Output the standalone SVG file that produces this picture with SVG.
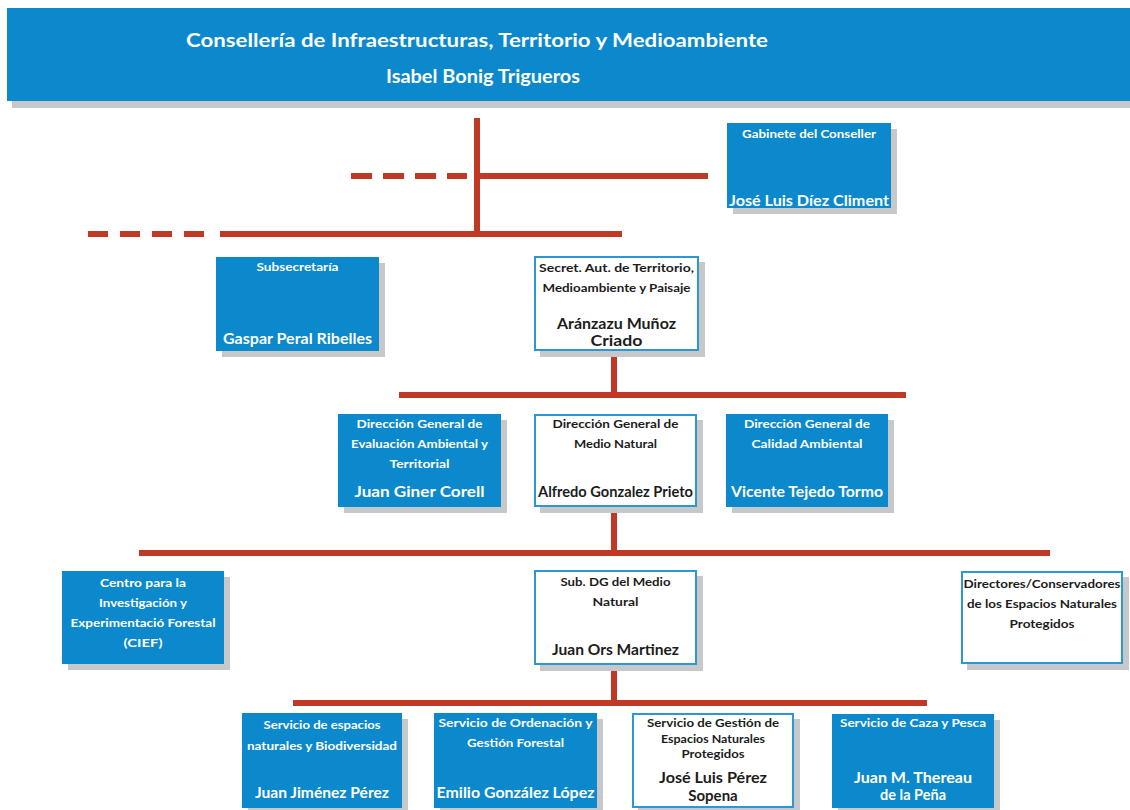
<svg xmlns="http://www.w3.org/2000/svg" width="1130" height="810" viewBox="0 0 1130 810">
<style>
  text { font-family: "Lato", "Open Sans", "Liberation Sans", sans-serif; font-weight: bold; text-anchor: middle; }
  .sh { fill: #c6c8ca; }
  .bb { fill: #0b89cc; }
  .wb { fill: #ffffff; stroke: #2b98d5; stroke-width: 2; }
  .wt { fill: #ffffff; }
  .dt { fill: #1c1c1c; }
  .lab { font-size: 11.5px; }
  .nm { font-size: 15px; }
  .hd { font-size: 19px; fill: #ffffff; }
  .ln { stroke: #c03925; stroke-width: 6; fill: none; }
</style>
<rect width="1130" height="810" fill="#ffffff"/>

<g id="header">
  <rect class="sh" x="12" y="15" width="1118" height="93"/>
  <rect class="bb" x="7" y="8" width="1123" height="93"/>
  <text class="hd" x="477" y="47" textLength="582" lengthAdjust="spacingAndGlyphs">Consellería de Infraestructuras, Territorio y Medioambiente</text>
  <text class="hd" x="483" y="83" textLength="194" lengthAdjust="spacingAndGlyphs">Isabel Bonig Trigueros</text>
</g>

<g id="connectors">
  <line class="ln" x1="477" y1="118" x2="477" y2="237"/>
  <line class="ln" x1="477" y1="176" x2="708" y2="176"/>
  <line class="ln" x1="351" y1="176" x2="467" y2="176" stroke-dasharray="21 11"/>
  <line class="ln" x1="220" y1="234" x2="622" y2="234"/>
  <line class="ln" x1="88" y1="234" x2="204" y2="234" stroke-dasharray="20 12"/>
  <line class="ln" x1="614" y1="357" x2="614" y2="396"/>
  <line class="ln" x1="399" y1="395" x2="906" y2="395"/>
  <line class="ln" x1="614" y1="513" x2="614" y2="553"/>
  <line class="ln" x1="139" y1="553" x2="1050" y2="553"/>
  <line class="ln" x1="614" y1="671" x2="614" y2="703"/>
  <line class="ln" x1="293" y1="703" x2="927" y2="703"/>
</g>

<g id="gabinete">
  <rect class="sh" x="733" y="129" width="164" height="85"/>
  <rect class="bb" x="727" y="123" width="164" height="85"/>
  <text class="wt lab" x="809" y="138" textLength="134" lengthAdjust="spacingAndGlyphs">Gabinete del Conseller</text>
  <text class="wt nm" x="809" y="206" textLength="160" lengthAdjust="spacingAndGlyphs">José Luis Díez Climent</text>
</g>

<g id="subsecretaria">
  <rect class="sh" x="222" y="263" width="163" height="94"/>
  <rect class="bb" x="216" y="257" width="163" height="94"/>
  <text class="wt lab" x="297.5" y="271" textLength="82" lengthAdjust="spacingAndGlyphs">Subsecretaría</text>
  <text class="wt nm" x="297.5" y="344" textLength="149" lengthAdjust="spacingAndGlyphs">Gaspar Peral Ribelles</text>
</g>

<g id="secretaria">
  <rect class="sh" x="540" y="262" width="165" height="95"/>
  <rect class="wb" x="535" y="257" width="163" height="93"/>
  <text class="dt lab" x="616.5" y="272" textLength="155" lengthAdjust="spacingAndGlyphs">Secret. Aut. de Territorio,</text>
  <text class="dt lab" x="616.5" y="292" textLength="148" lengthAdjust="spacingAndGlyphs">Medioambiente y Paisaje</text>
  <text class="dt nm" x="616.5" y="329" textLength="119" lengthAdjust="spacingAndGlyphs">Aránzazu Muñoz</text>
  <text class="dt nm" x="616.5" y="346" textLength="52" lengthAdjust="spacingAndGlyphs">Criado</text>
</g>

<g id="dg-evaluacion">
  <rect class="sh" x="344" y="420" width="163" height="93"/>
  <rect class="bb" x="338" y="414" width="163" height="93"/>
  <text class="wt lab" x="419.5" y="428" textLength="126" lengthAdjust="spacingAndGlyphs">Dirección General de</text>
  <text class="wt lab" x="419.5" y="448" textLength="137" lengthAdjust="spacingAndGlyphs">Evaluación Ambiental y</text>
  <text class="wt lab" x="419.5" y="468" textLength="60" lengthAdjust="spacingAndGlyphs">Territorial</text>
  <text class="wt nm" x="419.5" y="497" textLength="130" lengthAdjust="spacingAndGlyphs">Juan Giner Corell</text>
</g>

<g id="dg-medio-natural">
  <rect class="sh" x="540" y="420" width="163" height="93"/>
  <rect class="wb" x="535" y="415" width="161" height="91"/>
  <text class="dt lab" x="615.5" y="428" textLength="126" lengthAdjust="spacingAndGlyphs">Dirección General de</text>
  <text class="dt lab" x="615.5" y="448" textLength="83" lengthAdjust="spacingAndGlyphs">Medio Natural</text>
  <text class="dt nm" x="615.5" y="497" textLength="155" lengthAdjust="spacingAndGlyphs">Alfredo Gonzalez Prieto</text>
</g>

<g id="dg-calidad">
  <rect class="sh" x="732" y="420" width="162" height="93"/>
  <rect class="bb" x="726" y="414" width="162" height="93"/>
  <text class="wt lab" x="807" y="428" textLength="126" lengthAdjust="spacingAndGlyphs">Dirección General de</text>
  <text class="wt lab" x="807" y="448" textLength="111" lengthAdjust="spacingAndGlyphs">Calidad Ambiental</text>
  <text class="wt nm" x="807" y="497" textLength="152" lengthAdjust="spacingAndGlyphs">Vicente Tejedo Tormo</text>
</g>

<g id="cief">
  <rect class="sh" x="68" y="577" width="162" height="93"/>
  <rect class="bb" x="62" y="571" width="162" height="93"/>
  <text class="wt lab" x="143" y="587" textLength="86" lengthAdjust="spacingAndGlyphs">Centro para la</text>
  <text class="wt lab" x="143" y="607" textLength="88" lengthAdjust="spacingAndGlyphs">Investigación y</text>
  <text class="wt lab" x="143" y="627" textLength="145" lengthAdjust="spacingAndGlyphs">Experimentació Forestal</text>
  <text class="wt lab" x="143" y="647" textLength="39" lengthAdjust="spacingAndGlyphs">(CIEF)</text>
</g>

<g id="sub-dg">
  <rect class="sh" x="540" y="576" width="163" height="95"/>
  <rect class="wb" x="535" y="571" width="161" height="93"/>
  <text class="dt lab" x="615.5" y="586" textLength="110" lengthAdjust="spacingAndGlyphs">Sub. DG del Medio</text>
  <text class="dt lab" x="615.5" y="606" textLength="46" lengthAdjust="spacingAndGlyphs">Natural</text>
  <text class="dt nm" x="615.5" y="655" textLength="127" lengthAdjust="spacingAndGlyphs">Juan Ors Martinez</text>
</g>

<g id="directores">
  <rect class="sh" x="967" y="577" width="162" height="93"/>
  <rect class="wb" x="962" y="572" width="160" height="91"/>
  <text class="dt lab" x="1042" y="588" textLength="157" lengthAdjust="spacingAndGlyphs">Directores/Conservadores</text>
  <text class="dt lab" x="1042" y="608" textLength="150" lengthAdjust="spacingAndGlyphs">de los Espacios Naturales</text>
  <text class="dt lab" x="1042" y="628" textLength="65" lengthAdjust="spacingAndGlyphs">Protegidos</text>
</g>

<g id="servicio-espacios">
  <rect class="sh" x="248" y="719" width="160" height="95"/>
  <rect class="bb" x="242" y="713" width="160" height="95"/>
  <text class="wt lab" x="322" y="729" textLength="117" lengthAdjust="spacingAndGlyphs">Servicio de espacios</text>
  <text class="wt lab" x="322" y="750" textLength="150" lengthAdjust="spacingAndGlyphs">naturales y Biodiversidad</text>
  <text class="wt nm" x="322" y="798" textLength="134" lengthAdjust="spacingAndGlyphs">Juan Jiménez Pérez</text>
</g>

<g id="servicio-ordenacion">
  <rect class="sh" x="440" y="719" width="163" height="95"/>
  <rect class="bb" x="434" y="713" width="163" height="95"/>
  <text class="wt lab" x="515.5" y="727" textLength="154" lengthAdjust="spacingAndGlyphs">Servicio de Ordenación y</text>
  <text class="wt lab" x="515.5" y="747" textLength="97" lengthAdjust="spacingAndGlyphs">Gestión Forestal</text>
  <text class="wt nm" x="515.5" y="798" textLength="158" lengthAdjust="spacingAndGlyphs">Emilio González López</text>
</g>

<g id="servicio-gestion">
  <rect class="sh" x="638" y="719" width="162" height="95"/>
  <rect class="wb" x="633" y="714" width="160" height="93"/>
  <text class="dt lab" x="713" y="727" textLength="132" lengthAdjust="spacingAndGlyphs">Servicio de Gestión de</text>
  <text class="dt lab" x="713" y="743" textLength="104" lengthAdjust="spacingAndGlyphs">Espacios Naturales</text>
  <text class="dt lab" x="713" y="758" textLength="63" lengthAdjust="spacingAndGlyphs">Protegidos</text>
  <text class="dt nm" x="713" y="783" textLength="108" lengthAdjust="spacingAndGlyphs">José Luis Pérez</text>
  <text class="dt nm" x="713" y="801">Sopena</text>
</g>

<g id="servicio-caza">
  <rect class="sh" x="838" y="720" width="162" height="94"/>
  <rect class="bb" x="832" y="714" width="162" height="94"/>
  <text class="wt lab" x="913" y="727" textLength="146" lengthAdjust="spacingAndGlyphs">Servicio de Caza y Pesca</text>
  <text class="wt nm" x="913" y="783" textLength="118" lengthAdjust="spacingAndGlyphs">Juan M. Thereau</text>
  <text class="wt nm" x="913" y="800" textLength="66" lengthAdjust="spacingAndGlyphs">de la Peña</text>
</g>
</svg>
